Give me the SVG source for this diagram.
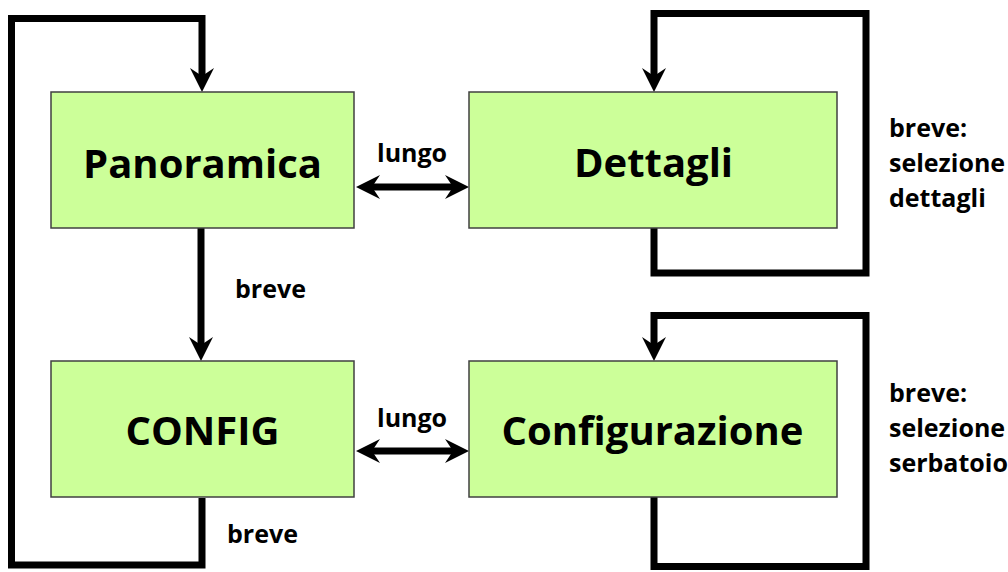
<svg xmlns="http://www.w3.org/2000/svg" width="1008" height="572" viewBox="0 0 1008 572">
<style>
.box{fill:#ccff99;stroke:#404040;stroke-width:1.5}
.t{font-family:"Open Sans","Noto Sans","DejaVu Sans",sans-serif;font-weight:bold;fill:#000}
.big{font-size:40px;text-anchor:middle}
.lbl{font-size:25px}
.c{fill:none;stroke:#000;stroke-width:7;stroke-linejoin:miter}
</style>
<defs>
<marker id="ah" markerUnits="userSpaceOnUse" markerWidth="30" markerHeight="30" viewBox="-10 -15 30 30" refX="0" refY="0" orient="auto-start-reverse">
<path d="M16,0 L-8,-12 L0,0 L-8,12 Z" fill="#000"/>
</marker>
</defs>
<rect width="1008" height="572" fill="#fff"/>
<g id="connectors">
<path class="c" d="M202,498 V565 H11.5 V18.5 H202 V76" marker-end="url(#ah)"/>
<path class="c" d="M201,228 V345" marker-end="url(#ah)"/>
<path class="c" d="M372,187 H453" marker-start="url(#ah)" marker-end="url(#ah)"/>
<path class="c" d="M372,451 H453" marker-start="url(#ah)" marker-end="url(#ah)"/>
<path class="c" d="M654,228 V273 H866 V13.5 H654 V76" marker-end="url(#ah)"/>
<path class="c" d="M654,497 V566.5 H866 V315.5 H654 V345" marker-end="url(#ah)"/>
</g>
<g id="panoramica">
<rect class="box" x="51" y="92" width="303" height="136"/>
<text class="t big" x="202.5" y="178">Panoramica</text>
</g>
<g id="dettagli">
<rect class="box" x="469" y="92" width="368" height="136"/>
<text class="t big" x="653.5" y="177">Dettagli</text>
</g>
<g id="config">
<rect class="box" x="51" y="361" width="303" height="136"/>
<text class="t big" x="202.5" y="445">CONFIG</text>
</g>
<g id="configurazione">
<rect class="box" x="469" y="361" width="368" height="136"/>
<text class="t big" x="652.5" y="445">Configurazione</text>
</g>
<g id="labels">
<text class="t lbl" x="235" y="298">breve</text>
<text class="t lbl" x="227" y="543">breve</text>
<text class="t lbl" x="377" y="162">lungo</text>
<text class="t lbl" x="377" y="427">lungo</text>
<text class="t lbl" x="889" y="137">breve:</text>
<text class="t lbl" x="889" y="172">selezione</text>
<text class="t lbl" x="889" y="207">dettagli</text>
<text class="t lbl" x="889" y="402">breve:</text>
<text class="t lbl" x="889" y="437">selezione</text>
<text class="t lbl" x="889" y="472">serbatoio</text>
</g>
</svg>
